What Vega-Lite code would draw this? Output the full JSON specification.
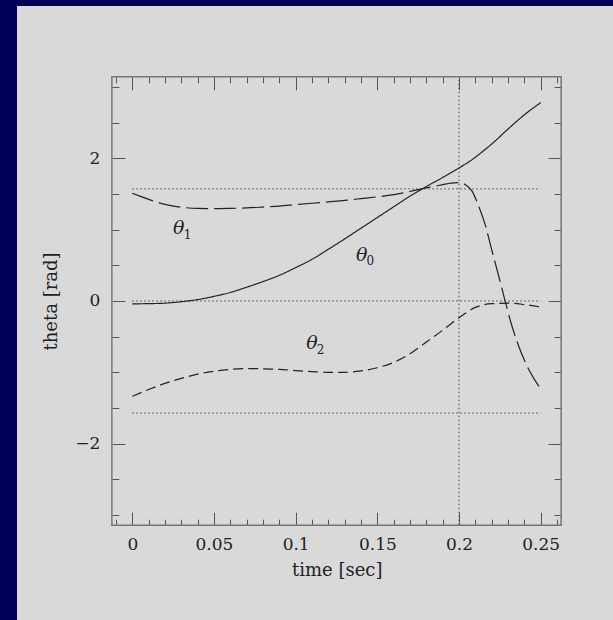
{
  "$schema": "https://vega.github.io/schema/vega-lite/v6.json",
  "autosize": {"type": "none"},
  "padding": {"left": 17, "top": 6, "right": 0, "bottom": 0},
  "width": 596,
  "height": 614,
  "background": "#000058",
  "config": {
    "view": {"fill": "#d9d9d9", "stroke": null},
    "axis": {
      "grid": false,
      "domain": false,
      "tickColor": "#555555",
      "tickWidth": 1,
      "labelFont": "DejaVu Serif",
      "labelFontSize": 17,
      "labelColor": "#222222",
      "titleFont": "DejaVu Serif",
      "titleFontSize": 18,
      "titleFontWeight": "normal",
      "titleColor": "#222222",
      "labelFlush": false,
      "labelOverlap": false
    }
  },
  "datasets": {
    "curves": [
      {"t": 0, "theta": -0.04, "series": "theta0"},
      {"t": 0.01, "theta": -0.037, "series": "theta0"},
      {"t": 0.02, "theta": -0.03, "series": "theta0"},
      {"t": 0.03, "theta": -0.01, "series": "theta0"},
      {"t": 0.04, "theta": 0.02, "series": "theta0"},
      {"t": 0.05, "theta": 0.065, "series": "theta0"},
      {"t": 0.06, "theta": 0.12, "series": "theta0"},
      {"t": 0.07, "theta": 0.193, "series": "theta0"},
      {"t": 0.08, "theta": 0.272, "series": "theta0"},
      {"t": 0.09, "theta": 0.36, "series": "theta0"},
      {"t": 0.1, "theta": 0.468, "series": "theta0"},
      {"t": 0.11, "theta": 0.584, "series": "theta0"},
      {"t": 0.12, "theta": 0.725, "series": "theta0"},
      {"t": 0.13, "theta": 0.87, "series": "theta0"},
      {"t": 0.14, "theta": 1.02, "series": "theta0"},
      {"t": 0.15, "theta": 1.17, "series": "theta0"},
      {"t": 0.16, "theta": 1.32, "series": "theta0"},
      {"t": 0.17, "theta": 1.47, "series": "theta0"},
      {"t": 0.18, "theta": 1.605, "series": "theta0"},
      {"t": 0.19, "theta": 1.73, "series": "theta0"},
      {"t": 0.2, "theta": 1.865, "series": "theta0"},
      {"t": 0.205, "theta": 1.935, "series": "theta0"},
      {"t": 0.21, "theta": 2.015, "series": "theta0"},
      {"t": 0.215, "theta": 2.105, "series": "theta0"},
      {"t": 0.22, "theta": 2.2, "series": "theta0"},
      {"t": 0.23, "theta": 2.41, "series": "theta0"},
      {"t": 0.24, "theta": 2.61, "series": "theta0"},
      {"t": 0.25, "theta": 2.78, "series": "theta0"},
      {"t": 0, "theta": 1.51, "series": "theta1"},
      {"t": 0.005, "theta": 1.467, "series": "theta1"},
      {"t": 0.01, "theta": 1.425, "series": "theta1"},
      {"t": 0.02, "theta": 1.355, "series": "theta1"},
      {"t": 0.03, "theta": 1.315, "series": "theta1"},
      {"t": 0.04, "theta": 1.297, "series": "theta1"},
      {"t": 0.05, "theta": 1.294, "series": "theta1"},
      {"t": 0.06, "theta": 1.298, "series": "theta1"},
      {"t": 0.07, "theta": 1.305, "series": "theta1"},
      {"t": 0.08, "theta": 1.317, "series": "theta1"},
      {"t": 0.09, "theta": 1.33, "series": "theta1"},
      {"t": 0.1, "theta": 1.35, "series": "theta1"},
      {"t": 0.11, "theta": 1.37, "series": "theta1"},
      {"t": 0.12, "theta": 1.39, "series": "theta1"},
      {"t": 0.13, "theta": 1.41, "series": "theta1"},
      {"t": 0.14, "theta": 1.435, "series": "theta1"},
      {"t": 0.15, "theta": 1.46, "series": "theta1"},
      {"t": 0.16, "theta": 1.49, "series": "theta1"},
      {"t": 0.17, "theta": 1.535, "series": "theta1"},
      {"t": 0.18, "theta": 1.585, "series": "theta1"},
      {"t": 0.19, "theta": 1.63, "series": "theta1"},
      {"t": 0.195, "theta": 1.652, "series": "theta1"},
      {"t": 0.2, "theta": 1.66, "series": "theta1"},
      {"t": 0.204, "theta": 1.63, "series": "theta1"},
      {"t": 0.208, "theta": 1.54, "series": "theta1"},
      {"t": 0.212, "theta": 1.33, "series": "theta1"},
      {"t": 0.216, "theta": 1.07, "series": "theta1"},
      {"t": 0.22, "theta": 0.72, "series": "theta1"},
      {"t": 0.2243, "theta": 0.35, "series": "theta1"},
      {"t": 0.228, "theta": 0.02, "series": "theta1"},
      {"t": 0.2324, "theta": -0.35, "series": "theta1"},
      {"t": 0.2365, "theta": -0.63, "series": "theta1"},
      {"t": 0.2427, "theta": -0.96, "series": "theta1"},
      {"t": 0.25, "theta": -1.23, "series": "theta1"},
      {"t": 0, "theta": -1.336, "series": "theta2"},
      {"t": 0.01, "theta": -1.24, "series": "theta2"},
      {"t": 0.02, "theta": -1.155, "series": "theta2"},
      {"t": 0.03, "theta": -1.085, "series": "theta2"},
      {"t": 0.04, "theta": -1.025, "series": "theta2"},
      {"t": 0.05, "theta": -0.985, "series": "theta2"},
      {"t": 0.06, "theta": -0.958, "series": "theta2"},
      {"t": 0.07, "theta": -0.948, "series": "theta2"},
      {"t": 0.08, "theta": -0.95, "series": "theta2"},
      {"t": 0.09, "theta": -0.958, "series": "theta2"},
      {"t": 0.1, "theta": -0.975, "series": "theta2"},
      {"t": 0.11, "theta": -0.99, "series": "theta2"},
      {"t": 0.12, "theta": -1.0, "series": "theta2"},
      {"t": 0.13, "theta": -1.0, "series": "theta2"},
      {"t": 0.14, "theta": -0.98, "series": "theta2"},
      {"t": 0.15, "theta": -0.935, "series": "theta2"},
      {"t": 0.16, "theta": -0.86, "series": "theta2"},
      {"t": 0.17, "theta": -0.74, "series": "theta2"},
      {"t": 0.18, "theta": -0.575, "series": "theta2"},
      {"t": 0.19, "theta": -0.41, "series": "theta2"},
      {"t": 0.2, "theta": -0.234, "series": "theta2"},
      {"t": 0.21, "theta": -0.09, "series": "theta2"},
      {"t": 0.22, "theta": -0.038, "series": "theta2"},
      {"t": 0.23, "theta": -0.03, "series": "theta2"},
      {"t": 0.24, "theta": -0.05, "series": "theta2"},
      {"t": 0.25, "theta": -0.084, "series": "theta2"}
    ],
    "hlines": [
      {"theta": 1.5708},
      {"theta": 0},
      {"theta": -1.5708}
    ],
    "vlines": [
      {"t": 0.2}
    ],
    "glyphs": [
      {"t": 0.0284, "theta": 1.028, "text": "θ"},
      {"t": 0.1404, "theta": 0.65, "text": "θ"},
      {"t": 0.11, "theta": -0.584, "text": "θ"}
    ],
    "subs": [
      {"t": 0.0339, "theta": 0.92, "text": "1"},
      {"t": 0.1457, "theta": 0.556, "text": "0"},
      {"t": 0.1153, "theta": -0.692, "text": "2"}
    ]
  },
  "resolve": {"axis": {"x": "independent", "y": "independent"}},
  "layer": [
    {
      "data": {"values": [{}]},
      "mark": {"type": "rect", "fill": "transparent", "stroke": "#777777", "strokeWidth": 1.5},
      "encoding": {
        "x": {
          "datum": -0.0125, "type": "quantitative",
          "scale": {"domain": [-0.07058, 0.29426], "nice": false, "zero": false},
          "axis": {
            "orient": "bottom", "offset": -94.8,
            "values": [0, 0.05, 0.1, 0.15, 0.2, 0.25],
            "format": "~g", "ticks": false, "tickSize": 0, "labelPadding": 11,
            "title": "time [sec]", "titleX": 319.7, "titleY": 45,
            "titleAlign": "center", "titleBaseline": "middle"
          }
        },
        "x2": {"datum": 0.2625},
        "y": {
          "datum": -3.14159, "type": "quantitative",
          "scale": {"domain": [-4.4709, 4.1345], "nice": false, "zero": false},
          "axis": {
            "orient": "left", "offset": -94.9,
            "values": [-2, 0, 2],
            "format": "~g", "ticks": false, "tickSize": 0, "labelPadding": 12,
            "title": "theta [rad]", "titleX": -60, "titleY": 295,
            "titleAngle": -90, "titleAlign": "center", "titleBaseline": "middle"
          }
        },
        "y2": {"datum": 3.14159}
      }
    },
    {
      "data": {"name": "hlines"},
      "mark": {"type": "rule", "stroke": "#444444", "strokeWidth": 1, "strokeDash": [1.5, 2.5]},
      "encoding": {
        "x": {
          "datum": 0, "type": "quantitative",
          "axis": {
            "orient": "top", "offset": -519.2,
            "values": [0, 0.05, 0.1, 0.15, 0.2, 0.25],
            "tickSize": 13, "labels": false, "title": null
          }
        },
        "x2": {"datum": 0.25},
        "y": {
          "field": "theta", "type": "quantitative",
          "axis": {
            "orient": "right", "offset": -501.1,
            "values": [-2, 0, 2],
            "tickSize": 13, "labels": false, "title": null
          }
        }
      }
    },
    {
      "data": {"name": "vlines"},
      "mark": {"type": "rule", "stroke": "#444444", "strokeWidth": 1, "strokeDash": [1.5, 2.5]},
      "encoding": {
        "x": {
          "field": "t", "type": "quantitative",
          "axis": {
            "orient": "top", "offset": -519.2,
            "values": [-0.01, 0.01, 0.02, 0.03, 0.04, 0.06, 0.07, 0.08, 0.09, 0.11, 0.12, 0.13, 0.14, 0.16, 0.17, 0.18, 0.19, 0.21, 0.22, 0.23, 0.24, 0.26],
            "tickSize": 6, "labels": false, "title": null
          }
        },
        "y": {
          "datum": -3.14159, "type": "quantitative",
          "axis": {
            "orient": "right", "offset": -501.1,
            "values": [-3, -2.5, -1.5, -1, -0.5, 0.5, 1, 1.5, 2.5, 3],
            "tickSize": 7, "labels": false, "title": null
          }
        },
        "y2": {"datum": 3.14159}
      }
    },
    {
      "data": {"name": "curves"},
      "mark": {"type": "line", "stroke": "#222222", "strokeWidth": 1.2, "interpolate": "monotone"},
      "encoding": {
        "x": {
          "field": "t", "type": "quantitative",
          "axis": {
            "orient": "bottom", "offset": -543.2,
            "values": [0, 0.05, 0.1, 0.15, 0.2, 0.25],
            "tickSize": 13, "labels": false, "title": null
          }
        },
        "y": {
          "field": "theta", "type": "quantitative",
          "axis": {
            "orient": "left", "offset": -544.1,
            "values": [-2, 0, 2],
            "tickSize": 13, "labels": false, "title": null
          }
        },
        "detail": {"field": "series"},
        "strokeDash": {
          "field": "series", "type": "nominal",
          "scale": {"domain": ["theta0", "theta1", "theta2"], "range": [[1, 0], [22, 6], [10, 5]]},
          "legend": null
        }
      }
    },
    {
      "data": {"name": "glyphs"},
      "mark": {"type": "text", "font": "DejaVu Serif", "fontStyle": "italic", "fontSize": 19, "color": "#222222", "align": "center", "baseline": "middle"},
      "encoding": {
        "x": {
          "field": "t", "type": "quantitative",
          "axis": {
            "orient": "bottom", "offset": -543.2,
            "values": [-0.01, 0.01, 0.02, 0.03, 0.04, 0.06, 0.07, 0.08, 0.09, 0.11, 0.12, 0.13, 0.14, 0.16, 0.17, 0.18, 0.19, 0.21, 0.22, 0.23, 0.24, 0.26],
            "tickSize": 6, "labels": false, "title": null
          }
        },
        "y": {
          "field": "theta", "type": "quantitative",
          "axis": {
            "orient": "left", "offset": -544.1,
            "values": [-3, -2.5, -1.5, -1, -0.5, 0.5, 1, 1.5, 2.5, 3],
            "tickSize": 7, "labels": false, "title": null
          }
        },
        "text": {"field": "text"}
      }
    },
    {
      "data": {"name": "subs"},
      "mark": {"type": "text", "font": "DejaVu Serif", "fontSize": 12, "color": "#222222", "align": "center", "baseline": "middle"},
      "encoding": {
        "x": {"field": "t", "type": "quantitative", "axis": null},
        "y": {"field": "theta", "type": "quantitative", "axis": null},
        "text": {"field": "text"}
      }
    }
  ]
}
